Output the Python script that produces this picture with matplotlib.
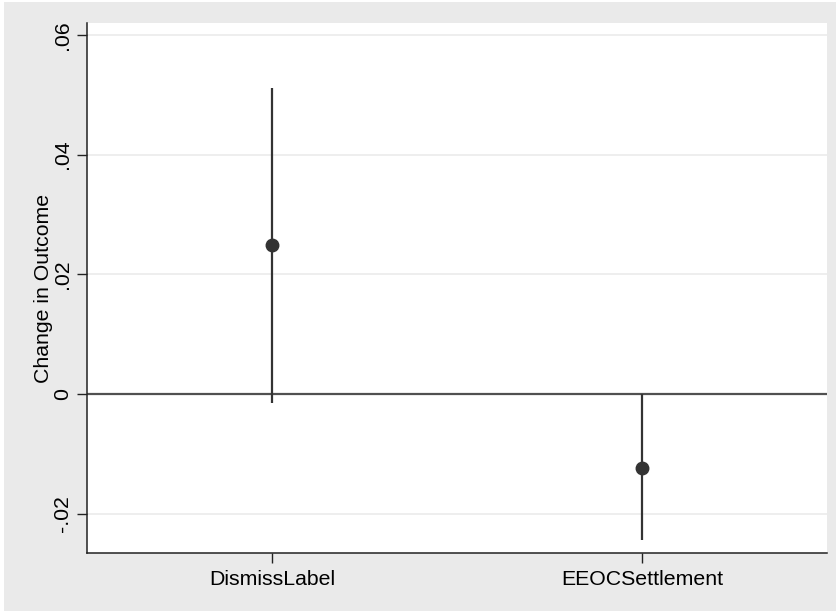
import matplotlib
matplotlib.use("Agg")
import matplotlib.pyplot as plt

categories = ["DismissLabel", "EEOCSettlement"]
estimates = [0.0249, -0.0124]
ci_low = [-0.0015, -0.0244]
ci_high = [0.0511, 0.0]
yticks = [-0.02, 0, 0.02, 0.04, 0.06]
yticklabels = ["-.02", "0", ".02", ".04", ".06"]

plt.rcParams['font.family'] = ['Liberation Sans', 'DejaVu Sans']

fig = plt.figure(figsize=(8.37, 6.13), dpi=100, facecolor="white")
bg = fig.add_axes([0.005, 0.003, 0.995, 0.994])
bg.set_facecolor("#eaeaea")
bg.set_xticks([]); bg.set_yticks([])
for s in bg.spines.values():
    s.set_visible(False)
bg.set_zorder(-1)

W, H = 837, 613
left, right, top, bottom = 87, 827, 23, 553
ax = fig.add_axes([left / W, 1 - bottom / H, (right - left) / W, (bottom - top) / H])
ax.set_facecolor("white")

x = list(range(1, len(categories) + 1))
col = "#333333"
for xi, lo, hi in zip(x, ci_low, ci_high):
    ax.plot([xi, xi], [lo, hi], color=col, lw=1.6, solid_capstyle="butt", zorder=3)
ax.plot(x, estimates, "o", color=col, markersize=9, zorder=4)

ax.axhline(0, color="#505050", lw=1.6, zorder=2)
for t in yticks:
    if t != 0:
        ax.axhline(t, color="#ebebeb", lw=1.2, zorder=1)

ax.set_xlim(0.5, 2.5)
ax.set_ylim(-0.0266, 0.062)
ax.set_xticks(x)
ax.set_xticklabels(categories, fontsize=15.3)
ax.set_yticks(yticks)
ax.set_yticklabels(yticklabels, fontsize=15.3, rotation=90, va="center")
ax.tick_params(axis="both", length=7, width=1, color="#222222")
ax.tick_params(axis="y", pad=4)
ax.tick_params(axis="x", pad=5)
ax.set_ylabel("Change in Outcome", fontsize=15.3, labelpad=0)

for s in ["top", "right"]:
    ax.spines[s].set_visible(False)
for s in ["left", "bottom"]:
    ax.spines[s].set_color("#222222")
    ax.spines[s].set_linewidth(1.1)

fig.savefig("out.png", dpi=100, facecolor="white")
